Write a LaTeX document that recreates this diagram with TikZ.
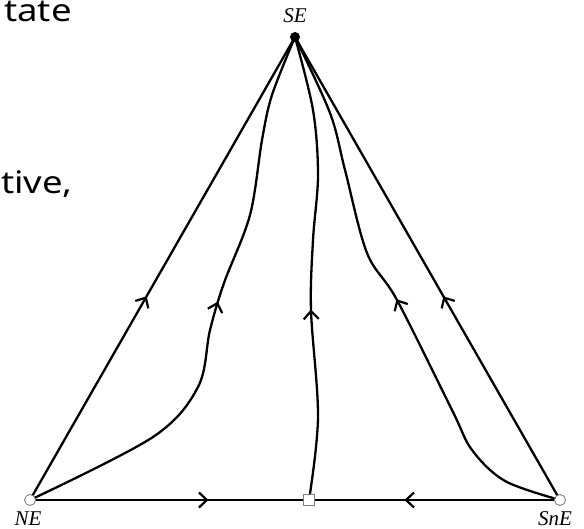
\documentclass[tikz,border=0pt]{standalone}
\usepackage{fontspec}
\newfontfamily\slidefont{Noto Sans}
\newfontfamily\labfont{Liberation Serif}
\usetikzlibrary{arrows.meta,decorations.markings,backgrounds}
\begin{document}
\begin{tikzpicture}[x=1pt,y=-1pt,
  flow/.style={line width=2.3pt},
  arr/.style={postaction={decorate,decoration={markings,
     mark=at position #1 with {\arrow{Straight Barb[length=8pt,width=15pt,line width=2.2pt]}}}}},
  openpt/.style={circle,draw=gray,fill=white,line width=0.9pt,minimum size=11pt,inner sep=0pt},
  sqpt/.style={rectangle,draw=gray,fill=white,line width=0.9pt,minimum size=11pt,inner sep=0pt},
  fullpt/.style={circle,fill=black,minimum size=10pt,inner sep=0pt},
  lab/.style={font=\labfont\fontsize{21}{21}\selectfont\itshape,inner sep=0pt,anchor=base},
  slide/.style={font=\slidefont\fontsize{31}{31}\selectfont,inner sep=0pt,anchor=base east}]
\path[use as bounding box] (0,0) rectangle (584,529);
\node[slide] (t1) at (72,22) {\scalebox{1.18}[1]{tate}};
\node[slide] (t2) at (73,194) {\scalebox{1.18}[1]{tive,}};
\node[fullpt] (SE) at (295,37) {};
\node[openpt] (NE) at (30,500) {};
\node[openpt] (SnE) at (560,500) {};
\node[sqpt] (Q) at (309,500) {};
\node[lab] (lSE) at (295,23) {SE};
\node[lab] (lNE) at (28,525) {NE};
\node[lab] (lSnE) at (555,525) {SnE};
\begin{scope}[on background layer]
\draw[flow,arr=0.44] (NE.center) -- (SE.center);
\draw[flow,arr=0.44] (SnE.center) -- (SE.center);
\draw[flow,arr=0.64] (NE.center) -- (Q.center);
\draw[flow,arr=0.62] (SnE.center) -- (Q.center);
\draw[flow,arr=0.515] plot[smooth,tension=0.55] coordinates {(NE.center) (153,437) (198,387) (210,330) (224,283) (250,215) (262,140) (272,95) (SE.center)};
\draw[flow,arr=0.41] plot[smooth,tension=0.55] coordinates {(Q.center) (318,417) (311,310) (313,240) (318,175) (313,110) (SE.center)};
\draw[flow,arr=0.49] plot[smooth,tension=0.55] coordinates {(SnE.center) (505,481) (472,450) (452,410) (397,300) (367,253) (345,170) (330,113) (SE.center)};
\end{scope}
\end{tikzpicture}
\end{document}
